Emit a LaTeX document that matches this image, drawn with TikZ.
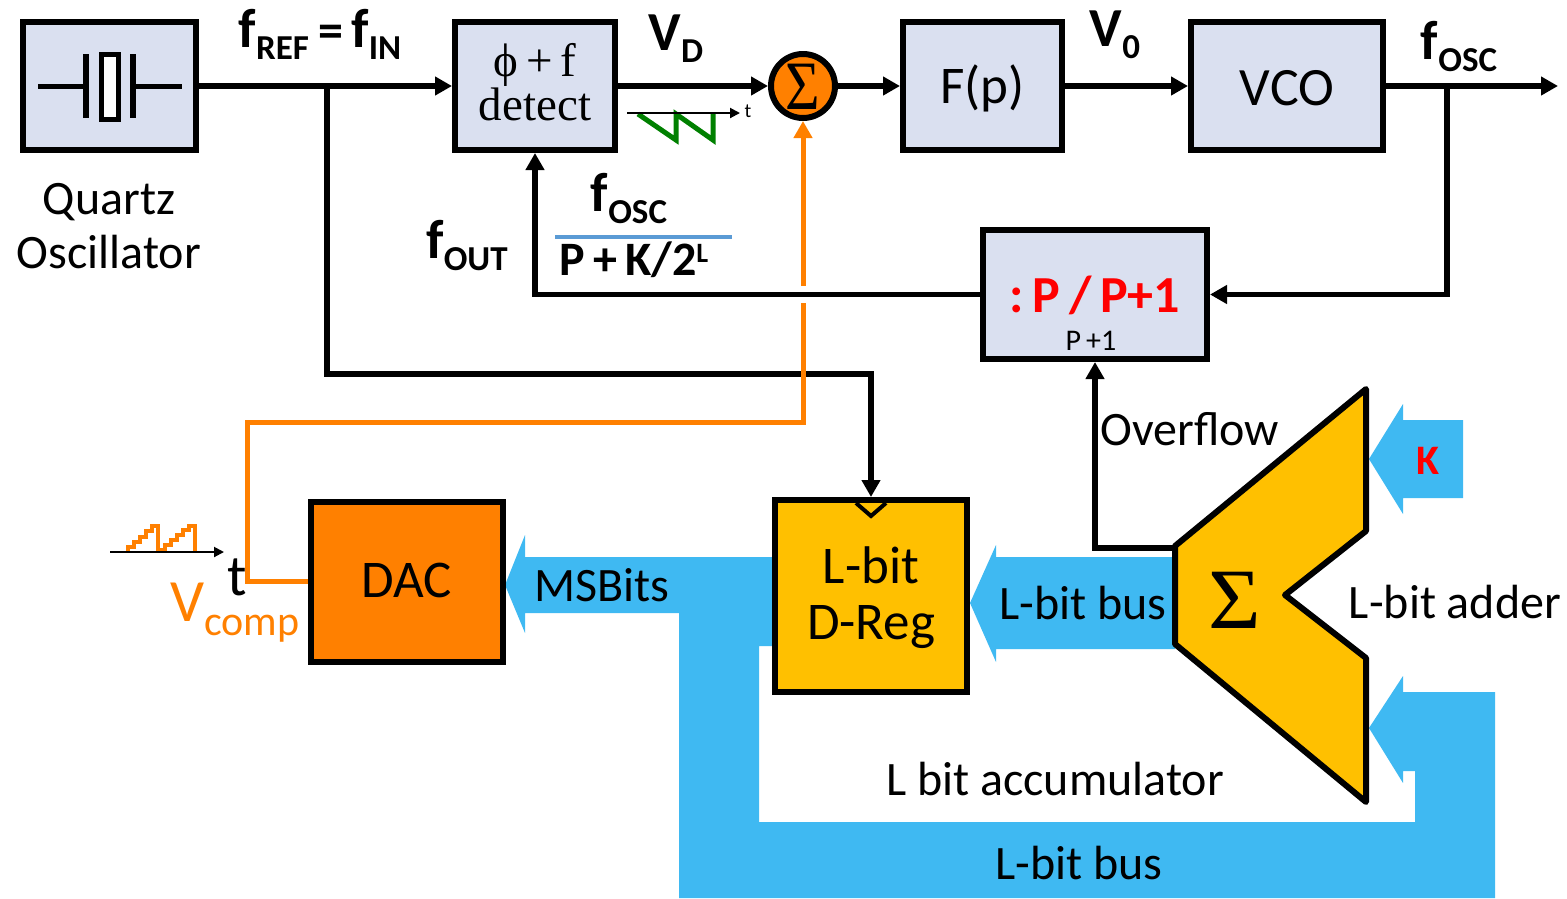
\documentclass[tikz,border=0pt]{standalone}
\usepackage{fontspec}
\setmainfont{Carlito}
\newfontfamily\timesf{Liberation Serif}
\usetikzlibrary{arrows.meta,calc}
\definecolor{boxblue}{HTML}{DAE0F0}
\definecolor{orng}{HTML}{FF8000}
\definecolor{yel}{HTML}{FFC000}
\definecolor{busblue}{HTML}{3FB9F2}
\definecolor{fracblue}{HTML}{5B9BD5}
\definecolor{wavegreen}{HTML}{008000}
\newcommand{\fsz}[1]{\fontsize{#1}{#1}\selectfont}
\newcommand{\subt}[2]{\raisebox{-#2pt}{\fsz{35}#1}}
\tikzset{
 x=1pt,y=-1pt,
 blk/.style={draw=black,line width=6pt,minimum width=#1,inner sep=0pt,align=center},
 sig/.style={draw=black,line width=5.5pt,line join=miter},
 sigarrow/.style={sig,-{Triangle[length=17pt,width=18pt]}},
 orline/.style={draw=orng,line width=5pt},
 lbl/.style={inner sep=0pt,align=center,font=\fsz{48}},
 blbl/.style={inner sep=0pt,font=\fsz{55}\bfseries},
 thinaxis/.style={draw=black,line width=2pt,-{Triangle[length=10pt,width=10pt]}},
 bus/.style={fill=busblue,draw=none},
}
\begin{document}
\begin{tikzpicture}
\useasboundingbox (0,0) rectangle (1567,898);
% buses
\fill[bus] (505,585) -- (525,535) -- (525,557) -- (775,557) -- (775,646) -- (759,646) -- (759,822) -- (1415,822) -- (1415,771) -- (1403,771) -- (1403,783) -- (1369,728) -- (1403,676) -- (1403,692) -- (1495,692) -- (1495,898) -- (679,898) -- (679,613) -- (525,613) -- (525,633) -- cycle;
\fill[bus] (970,603) -- (996,545) -- (996,557) -- (1175,557) -- (1175,649) -- (996,649) -- (996,662) -- cycle;
\fill[bus] (1369,459) -- (1403,404) -- (1403,420) -- (1463,420) -- (1463,498) -- (1403,498) -- (1403,514) -- cycle;
% blocks
\node[blk=173pt,minimum height=128pt,fill=boxblue] (quartz) at (109.5,86) {};
\node[blk=160pt,minimum height=128pt,fill=boxblue] (detect) at (535,86) {};
\node[blk=159pt,minimum height=128pt,fill=boxblue] (filter) at (982.5,86) {};
\node[blk=192pt,minimum height=128pt,fill=boxblue] (vco) at (1287,86) {};
\node[blk=224pt,minimum height=129pt,fill=boxblue] (div) at (1095,294.5) {};
\node[blk=192pt,minimum height=160pt,fill=orng] (dac) at (407,582) {};
\node[blk=192pt,minimum height=192pt,fill=yel] (dreg) at (871,596) {};
\node[circle,draw=black,line width=6pt,fill=orng,minimum size=64pt,inner sep=0pt] (sum) at (803,86) {};
\node[inner sep=0pt] (sumsig) at (803,87) {\scalebox{0.9}[1.05]{\timesf\fsz{66}Σ}};
\node[inner sep=0pt,align=center,font=\timesf\fsz{47}] (dettext) at (535,82) {\char"03D5\,+\,f\\[-3pt]detect};
\node[inner sep=0pt,font=\fsz{53}] (ftext) at (982.5,88) {F(p)};
\node[inner sep=0pt,font=\fsz{54}] (vcotext) at (1287,88) {VCO};
\node[inner sep=0pt,font=\fsz{53}] (dactext) at (407,580) {DAC};
% adder
\path[fill=yel,draw=black,line width=6pt,line join=round] (1175,546) -- (1366,389) -- (1366,531) -- (1285,595) -- (1366,658) -- (1366,802) -- (1175,644) -- cycle;
\node[inner sep=0pt] (addsig) at (1235,600) {\scalebox{1.05}[1.0]{\timesf\fsz{86}Σ}};
% quartz symbol
\coordinate (ql) at (38,86);
\coordinate (qr) at (182,86);
\coordinate (pl) at (86,86);
\coordinate (prr) at (133,86);
\draw[line width=5pt] (ql) -- (pl);
\draw[line width=5pt] (prr) -- (qr);
\draw[line width=6pt] (86,54) -- (86,118);
\draw[line width=6pt] (133,54) -- (133,118);
\draw[line width=5pt,fill=white] (101,54) rectangle (118,119);
% clock notch
\draw[line width=4pt] (856,503) -- (871,516) -- (886,503);
% top row connectors
\coordinate (ref) at (327,86);
\coordinate (refb) at (327,374);
\coordinate (refc) at (871,374);
\coordinate (oscout) at (1558,86);
\coordinate (tap) at (1447,86);
\coordinate (tapb) at (1447,294.5);
\coordinate (fbk) at (535,294.5);
\coordinate (ovf) at (1095,548);
\coordinate (adl) at (1175,548);
\draw[sigarrow] (quartz.east) -- (detect.west);
\draw[sigarrow] (detect.east) -- (sum.west);
\draw[sigarrow] (sum.east) -- (filter.west);
\draw[sigarrow] (filter.east) -- (vco.west);
\draw[sigarrow] (vco.east) -- (oscout);
\draw[sig,-{Triangle[length=17pt,width=18pt]}] (tap) -- (tapb) -- (div.east);
\draw[sigarrow] (div.west) -- (fbk) -- (detect.south);
\draw[sig,-{Triangle[length=17pt,width=18pt]}] (ref) -- (refb) -- (refc) -- (dreg.north);
\draw[sigarrow] (adl) -- (ovf) -- (div.south);
% orange line
\coordinate (oa) at (247,581);
\coordinate (ob) at (247,422);
\coordinate (oc) at (803,422);
\coordinate (od) at (803,303);
\coordinate (oe) at (803,286);
\draw[orline,line join=miter] (dac.west |- oa) -- (oa) -- (ob) -- (oc) -- (od);
\draw[orline,-{Triangle[length=17pt,width=18pt]}] (oe) -- (sum.south);
% fraction bar
\coordinate (fa) at (555,237);
\coordinate (fb) at (732,237);
\draw[draw=fracblue,line width=4pt] (fa) -- (fb);
% waveforms
\draw[draw=wavegreen,line width=5pt,line join=miter] (638,114) -- (676,140) -- (676,114) -- (713,140) -- (713,114);
\coordinate (wa) at (627,113);
\coordinate (wb) at (740,113);
\draw[thinaxis] (wa) -- (wb);
\node[inner sep=0pt,font=\fsz{20}] (tsmall) at (748,111) {t};
\draw[draw=orng,line width=4.5pt,line join=miter] (128,552) -- (128,547) -- (134,547) -- (134,542) -- (140,542) -- (140,537) -- (146,537) -- (146,531) -- (152,531) -- (152,526) -- (158,526) -- (158,550) -- (165,550) -- (165,545) -- (171,545) -- (171,540) -- (177,540) -- (177,535) -- (183,535) -- (183,530) -- (189,530) -- (189,526) -- (195,526) -- (195,552);
\coordinate (sa) at (110,552);
\coordinate (sb) at (224,552);
\draw[thinaxis] (sa) -- (sb);
\node[inner sep=0pt,font=\fsz{58}] (tbig) at (237,577) {t};
\node[inner sep=0pt,text=orng,anchor=base west] (vcomp) at (170,621) {\fsz{60}V\raisebox{-14pt}{\fsz{42}comp}};
% labels
\node[lbl] (qlab) at (109,202) {Quartz};
\node[lbl] (olab) at (109,252) {Oscillator};
\node[blbl,anchor=base] (fref) at (320,47) {f\subt{REF}{12}\,\fsz{50}=\,\fsz{55}f\subt{IN}{12}};
\node[blbl,anchor=base] (vd) at (676,50) {V\subt{D}{12}};
\node[blbl,anchor=base] (v0) at (1115,46) {V\subt{0}{12}};
\node[blbl,anchor=base] (fosc) at (1459,59) {f\subt{OSC}{12}};
\node[blbl,anchor=base] (fosc2) at (629,211) {f\subt{OSC}{12}};
\node[blbl,anchor=base] (fout) at (467,258) {f\subt{OUT}{12}};
\node[inner sep=0pt,anchor=base,font=\fsz{48}\bfseries] (pk) at (634,275) {P\,+\,K/2\raisebox{13pt}{\fsz{28}L}};
\node[inner sep=0pt,anchor=base,font=\fsz{52}\bfseries,text=red] (plab) at (1095,312) {:\,P\,/\,P+1};
\node[inner sep=0pt,anchor=base,font=\fsz{30}] (p1) at (1091,350) {P\,+1};
\node[lbl,font=\fsz{53}] (dr1) at (871,565) {L-bit};
\node[lbl,font=\fsz{53}] (dr2) at (871,627) {D-Reg};
\node[lbl] (msb) at (602,585) {MSBits};
\node[lbl] (busa) at (1083,603) {L-bit bus};
\node[lbl] (busb) at (1079,863) {L-bit bus};
\node[lbl] (acc) at (1055,779) {L bit accumulator};
\node[lbl] (add) at (1455,602) {L-bit adder};
\node[lbl] (ovl) at (1190,429) {Overflow};
\node[inner sep=0pt,font=\fsz{42}\bfseries,text=red] (klab) at (1428,461) {K};
\end{tikzpicture}
\end{document}
